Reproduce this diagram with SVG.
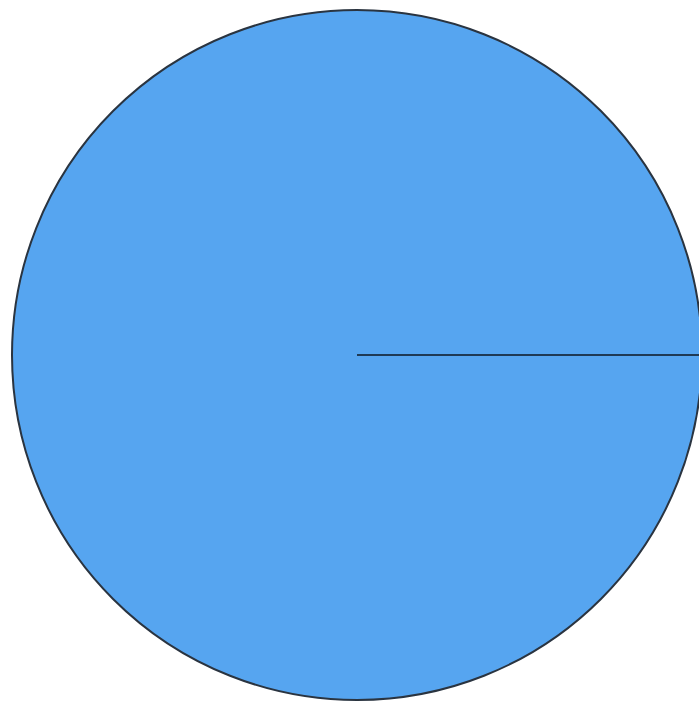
<svg xmlns="http://www.w3.org/2000/svg" width="699" height="704" viewBox="0 0 699 704">
<rect width="699" height="704" fill="#ffffff"/>
<g id="circle">
<circle cx="357" cy="355" r="345" fill="#56a5f0" stroke="#2a3440" stroke-width="2"/>
</g>
<g id="connectors">
<line x1="357" y1="355" x2="699" y2="355" stroke="#1f3a55" stroke-width="2"/>
</g>
</svg>
